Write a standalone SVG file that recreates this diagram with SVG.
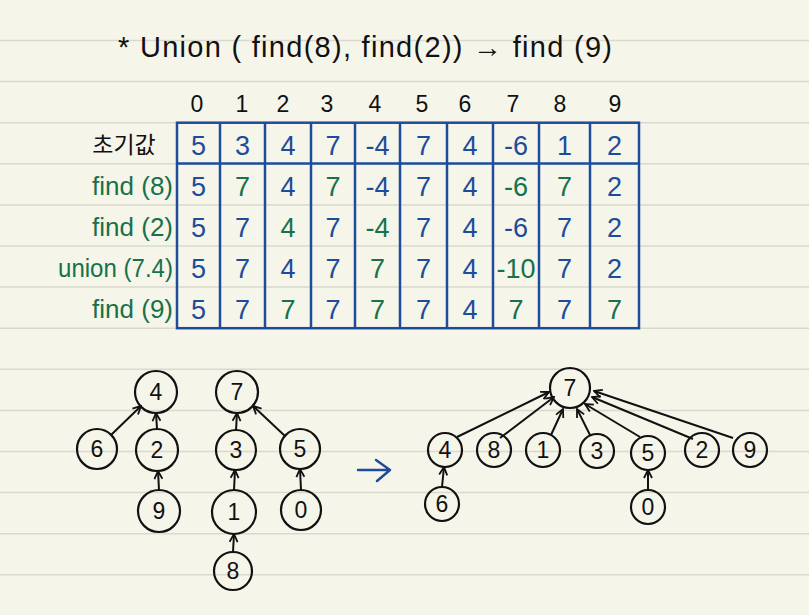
<svg xmlns="http://www.w3.org/2000/svg" width="809" height="615" viewBox="0 0 809 615">
<defs>
<style>
.rule{stroke:#d9d9cd;stroke-width:1.5}
.t{font-family:"Liberation Sans","Noto Sans CJK KR",sans-serif}
.title{font-size:29px;fill:#111}
.hd{font-size:23px;fill:#111;text-anchor:middle}
.v{font-size:27px;text-anchor:middle}
.b{fill:#1d4c9b}
.g{fill:#17714a}
.lbl{font-size:26px;fill:#17714a;text-anchor:end}
.grid{stroke:#1d4c9b;stroke-width:2.5;fill:none}
.node circle{fill:none;stroke:#111;stroke-width:2.2}
.node text{font-family:"Liberation Sans",sans-serif;font-size:23px;fill:#111;text-anchor:middle}
.edge{stroke:#111;stroke-width:2;fill:none;marker-end:url(#ah)}
</style>
<marker id="ah" viewBox="0 0 10 10" refX="9" refY="5" markerWidth="10" markerHeight="10" markerUnits="userSpaceOnUse" orient="auto">
<path d="M1,1 L9,5 L1,9" fill="none" stroke="#111" stroke-width="1.8"/>
</marker>
</defs>
<rect width="809" height="615" fill="#f6f5ea"/>
<g id="rules">
<line class="rule" x1="0" y1="40.5" x2="809" y2="40.5"/>
<line class="rule" x1="0" y1="81.6" x2="809" y2="81.6"/>
<line class="rule" x1="0" y1="122.7" x2="809" y2="122.7"/>
<line class="rule" x1="0" y1="163.8" x2="809" y2="163.8"/>
<line class="rule" x1="0" y1="204.9" x2="809" y2="204.9"/>
<line class="rule" x1="0" y1="246" x2="809" y2="246"/>
<line class="rule" x1="0" y1="287.1" x2="809" y2="287.1"/>
<line class="rule" x1="0" y1="328.2" x2="809" y2="328.2"/>
<line class="rule" x1="0" y1="369.3" x2="809" y2="369.3"/>
<line class="rule" x1="0" y1="410.4" x2="809" y2="410.4"/>
<line class="rule" x1="0" y1="451.5" x2="809" y2="451.5"/>
<line class="rule" x1="0" y1="492.6" x2="809" y2="492.6"/>
<line class="rule" x1="0" y1="533.7" x2="809" y2="533.7"/>
<line class="rule" x1="0" y1="574.8" x2="809" y2="574.8"/>
</g>
<text class="t title" x="118" y="57" textLength="494" lengthAdjust="spacing">* Union ( find(8), find(2)) → find (9)</text>
<g id="headers" class="t hd">
<text x="197" y="112">0</text><text x="242" y="112">1</text><text x="283" y="112">2</text><text x="327" y="112">3</text><text x="375" y="112">4</text><text x="422" y="112">5</text><text x="465" y="112">6</text><text x="513" y="112">7</text><text x="560" y="112">8</text><text x="615" y="112">9</text>
</g>
<g id="table">
<rect class="grid" x="177" y="122.7" width="462" height="205.5"/>
<line class="grid" x1="177" y1="163.5" x2="639" y2="163.5"/>
<line class="grid" x1="220" y1="122.7" x2="220" y2="328.2"/>
<line class="grid" x1="265" y1="122.7" x2="265" y2="328.2"/>
<line class="grid" x1="311" y1="122.7" x2="311" y2="328.2"/>
<line class="grid" x1="355" y1="122.7" x2="355" y2="328.2"/>
<line class="grid" x1="400" y1="122.7" x2="400" y2="328.2"/>
<line class="grid" x1="447" y1="122.7" x2="447" y2="328.2"/>
<line class="grid" x1="493" y1="122.7" x2="493" y2="328.2"/>
<line class="grid" x1="539" y1="122.7" x2="539" y2="328.2"/>
<line class="grid" x1="590" y1="122.7" x2="590" y2="328.2"/>
</g>
<g id="labels" class="t">
<text x="124" y="153" font-size="23" fill="#111" text-anchor="middle" font-family="'Noto Sans CJK KR',sans-serif">초기값</text>
<text class="lbl" x="173" y="195">find (8)</text>
<text class="lbl" x="173" y="236">find (2)</text>
<text class="lbl" x="173" y="277" textLength="115" lengthAdjust="spacingAndGlyphs">union (7.4)</text>
<text class="lbl" x="173" y="318">find (9)</text>
</g>
<g id="values" class="t v">
<text class="b" x="198.5" y="155">5</text><text class="b" x="242.5" y="155">3</text><text class="b" x="288" y="155">4</text><text class="b" x="333" y="155">7</text><text class="b" x="377.5" y="155">-4</text><text class="b" x="423.5" y="155">7</text><text class="b" x="470" y="155">4</text><text class="b" x="516" y="155">-6</text><text class="b" x="564.5" y="155">1</text><text class="b" x="614.5" y="155">2</text>
<text class="b" x="198.5" y="196">5</text><text class="g" x="242.5" y="196">7</text><text class="b" x="288" y="196">4</text><text class="g" x="333" y="196">7</text><text class="b" x="377.5" y="196">-4</text><text class="b" x="423.5" y="196">7</text><text class="b" x="470" y="196">4</text><text class="g" x="516" y="196">-6</text><text class="g" x="564.5" y="196">7</text><text class="b" x="614.5" y="196">2</text>
<text class="b" x="198.5" y="237">5</text><text class="b" x="242.5" y="237">7</text><text class="g" x="288" y="237">4</text><text class="b" x="333" y="237">7</text><text class="g" x="377.5" y="237">-4</text><text class="b" x="423.5" y="237">7</text><text class="b" x="470" y="237">4</text><text class="b" x="516" y="237">-6</text><text class="b" x="564.5" y="237">7</text><text class="b" x="614.5" y="237">2</text>
<text class="b" x="198.5" y="278">5</text><text class="b" x="242.5" y="278">7</text><text class="b" x="288" y="278">4</text><text class="b" x="333" y="278">7</text><text class="g" x="377.5" y="278">7</text><text class="b" x="423.5" y="278">7</text><text class="b" x="470" y="278">4</text><text class="g" x="516" y="278">-10</text><text class="b" x="564.5" y="278">7</text><text class="b" x="614.5" y="278">2</text>
<text class="b" x="198.5" y="319">5</text><text class="b" x="242.5" y="319">7</text><text class="g" x="288" y="319">7</text><text class="b" x="333" y="319">7</text><text class="g" x="377.5" y="319">7</text><text class="b" x="423.5" y="319">7</text><text class="b" x="470" y="319">4</text><text class="g" x="516" y="319">7</text><text class="b" x="564.5" y="319">7</text><text class="g" x="614.5" y="319">7</text>
</g>
<g id="connectors">
<line class="edge" x1="111" y1="435" x2="141" y2="406"/>
<line class="edge" x1="157" y1="429" x2="156" y2="413"/>
<line class="edge" x1="159" y1="490" x2="158" y2="471"/>
<line class="edge" x1="236" y1="430" x2="237" y2="413"/>
<line class="edge" x1="234" y1="490" x2="235" y2="470"/>
<line class="edge" x1="233" y1="552" x2="234" y2="534"/>
<line class="edge" x1="285" y1="436" x2="253" y2="406"/>
<line class="edge" x1="301" y1="490" x2="300" y2="469"/>
<line class="edge" x1="457" y1="437" x2="549" y2="392"/>
<line class="edge" x1="500" y1="438" x2="554" y2="397"/>
<line class="edge" x1="551" y1="435" x2="563" y2="409"/>
<line class="edge" x1="590" y1="435" x2="577" y2="409"/>
<line class="edge" x1="640" y1="437" x2="585" y2="404"/>
<line class="edge" x1="693" y1="439" x2="592" y2="397"/>
<line class="edge" x1="733" y1="438" x2="594" y2="391"/>
<line class="edge" x1="442" y1="487" x2="444" y2="467"/>
<line class="edge" x1="648" y1="490" x2="648" y2="470"/>
<path d="M358,470 L390,470 M376,460 L390,470 L377,481" fill="none" stroke="#1d4c9b" stroke-width="2.5" stroke-linecap="round" stroke-linejoin="round"/>
</g>
<g id="L4" class="node"><circle cx="156" cy="392" r="21"/><text x="156" y="400">4</text></g>
<g id="L6" class="node"><circle cx="97" cy="449" r="20"/><text x="97" y="457">6</text></g>
<g id="L2" class="node"><circle cx="157" cy="450" r="21"/><text x="157" y="458">2</text></g>
<g id="L9" class="node"><circle cx="159" cy="511" r="21"/><text x="159" y="519">9</text></g>
<g id="L7" class="node"><circle cx="237" cy="392" r="21"/><text x="237" y="400">7</text></g>
<g id="L3" class="node"><circle cx="236" cy="450" r="20"/><text x="236" y="458">3</text></g>
<g id="L5" class="node"><circle cx="300" cy="449" r="20"/><text x="300" y="457">5</text></g>
<g id="L1" class="node"><circle cx="234" cy="512" r="22"/><text x="234" y="520">1</text></g>
<g id="L0" class="node"><circle cx="301" cy="510" r="20"/><text x="301" y="518">0</text></g>
<g id="L8" class="node"><circle cx="233" cy="571" r="19"/><text x="233" y="579">8</text></g>
<g id="R7" class="node"><circle cx="570" cy="388" r="20"/><text x="570" y="396">7</text></g>
<g id="R4" class="node"><circle cx="445" cy="450" r="17"/><text x="445" y="458">4</text></g>
<g id="R8" class="node"><circle cx="494" cy="450" r="17"/><text x="494" y="458">8</text></g>
<g id="R1" class="node"><circle cx="543" cy="450" r="17"/><text x="543" y="458">1</text></g>
<g id="R3" class="node"><circle cx="597" cy="451" r="17"/><text x="597" y="459">3</text></g>
<g id="R5" class="node"><circle cx="648" cy="453" r="17"/><text x="648" y="461">5</text></g>
<g id="R2" class="node"><circle cx="702" cy="450" r="17"/><text x="702" y="458">2</text></g>
<g id="R9" class="node"><circle cx="750" cy="450" r="17"/><text x="750" y="458">9</text></g>
<g id="R6" class="node"><circle cx="442" cy="504" r="17"/><text x="442" y="512">6</text></g>
<g id="R0" class="node"><circle cx="648" cy="507" r="17"/><text x="648" y="515">0</text></g>
</svg>
